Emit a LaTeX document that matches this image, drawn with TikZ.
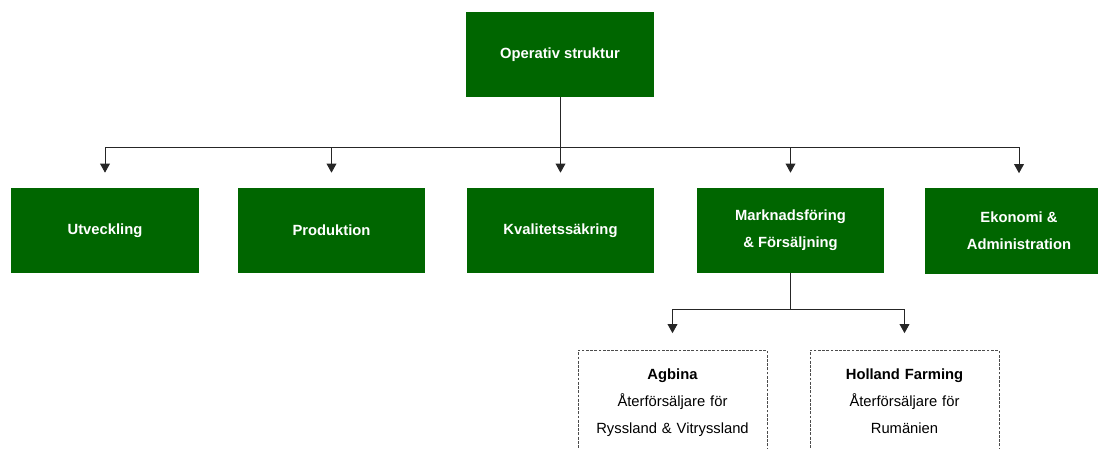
\documentclass[tikz,border=0pt]{standalone}
\usepackage{fontspec}
\setmainfont{Liberation Sans}
\usetikzlibrary{arrows.meta}
\definecolor{orggreen}{RGB}{0,102,0}

\begin{document}
\begin{tikzpicture}[
  x=0.025cm, y=-0.025cm,
  unit/.style={rectangle, fill=orggreen, text=white, font=\fontsize{10.5}{19}\selectfont\bfseries, minimum width=4.675cm, minimum height=2.125cm, align=center, inner sep=0pt},
  partner/.style={rectangle, draw=black!70, dash pattern=on 2pt off 1pt, line width=0.5pt, minimum width=4.725cm, text width=4.6cm, align=center, inner xsep=0pt, inner ysep=0.47cm, text depth=3cm, anchor=north, font=\fontsize{10.5}{19}\selectfont},
  arrow/.style={-{Triangle[width=7pt,length=6.5pt]}, line width=0.7pt, black!85}
]
  \useasboundingbox (0,0) rectangle (1098,448);
  \clip (0,0) rectangle (1098,448);

  \node[unit, minimum width=4.7cm] (top) at (560,54.5) {Operativ struktur};

  \node[unit] (utv) at (105,230.5) {Utveckling};
  \node[unit] (prod) at (331.5,230.5) {Produktion};
  \node[unit] (kval) at (560.5,230.5) {Kvalitetssäkring};
  \node[unit] (mark) at (790.5,230.5) {Marknadsföring\\\& Försäljning};
  \node[unit] (eko) at (1019,231) {Ekonomi \&\\Administration};

  \node[partner] (agbina) at (672.5,350) {{\bfseries Agbina}\\Återförsäljare för\\Ryssland \& Vitryssland};
  \node[partner] (holland) at (904.5,350) {{\bfseries Holland Farming}\\Återförsäljare för\\Rumänien};

  \coordinate (bar) at (0,147);
  \coordinate (subbar) at (0,309);

  \foreach \n in {utv,prod,kval,mark,eko}
    \draw[arrow, shorten >=0.375cm] (top.south) -- (top.south |- bar) -| (\n.north);
  \foreach \n in {agbina,holland}
    \draw[arrow, shorten >=0.42cm] (mark.south) -- (mark.south |- subbar) -| (\n.north);
\end{tikzpicture}
\end{document}
